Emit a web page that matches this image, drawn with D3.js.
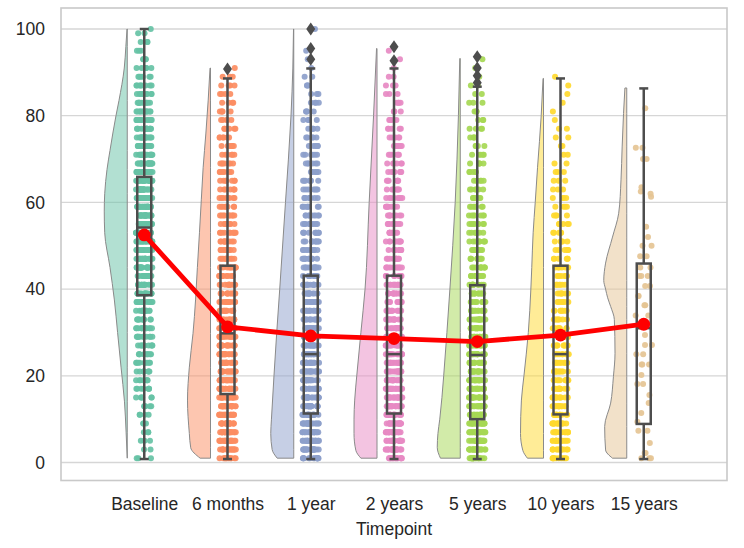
<!DOCTYPE html>
<html>
<head>
<meta charset="utf-8">
<script src="https://cdn.jsdelivr.net/npm/d3@7"></script>
<style>
  html, body { margin: 0; padding: 0; background: #ffffff; }
  svg { display: block; }
  text { font-family: "Liberation Sans", Arial, Helvetica, sans-serif; }
</style>
</head>
<body>
<svg id="chart" width="744" height="548"></svg>
<script>
// ---------------- DATA ----------------
const categories = ["Baseline", "6 months", "1 year", "2 years", "5 years", "10 years", "15 years"];
const colors = ["#66c2a5", "#fc8d62", "#8da0cb", "#e78ac3", "#a6d854", "#ffd92f", "#e5c494"];
const yTicks = [0, 20, 40, 60, 80, 100];
const xLabel = "Timepoint";

// means (red point line)
const means = [52.5, 31.3, 29.2, 28.6, 27.9, 29.4, 31.9];
// box plot statistics
const q1 = [38.6, 15.8, 11.3, 11.3, 10.0, 11.1, 8.9];
const medians = [54.2, 29.8, 25.0, 25.0, 24.8, 25.0, 31.0];
const q3 = [65.9, 45.4, 43.1, 43.1, 40.9, 45.4, 45.9];
const whiskerLow = [0.8, 0.8, 0.8, 0.8, 0.8, 0.8, 0.8];
const whiskerHigh = [100, 88.6, 90.9, 90.9, 86.7, 88.6, 86.3];
const outliers = [[], [90.8], [93.0, 95.5, 100], [92.7, 95.9], [87.6, 89.2, 91.0, 93.6], [], []];

// half-violin density profiles: [value, relative density]
const violinBaseline = [[1,0],[7,0.05],[14,0.12],[22,0.27],[30,0.42],[37.5,0.56],[45,0.75],[53,0.98],[58,1],[62,0.98],[67.6,0.88],[72,0.75],[80,0.49],[83.5,0.36],[91,0.13],[96,0.06],[100,0.01]];
const violin6m = [[1,0.45],[3.4,0.86],[6.7,0.92],[14.4,1],[22,0.92],[29.8,0.76],[37.5,0.65],[45,0.57],[53,0.48],[60.6,0.40],[68,0.32],[76,0.2],[83.6,0.1],[91,0.02]];
const violin1y = [[1,0.72],[3,0.94],[6.7,1],[10,0.97],[20,0.86],[30,0.74],[40,0.61],[60,0.36],[80,0.12],[91,0.04],[100,0.01]];
const violin2y = [[1,0.7],[2.8,0.92],[6.7,1],[10,1],[14.4,0.97],[20,0.88],[30,0.7],[40,0.52],[60,0.34],[80,0.15],[95.5,0.02]];
const violin5y = [[1,0.86],[3.5,1],[6.7,0.97],[10,0.89],[20,0.72],[30,0.58],[40,0.45],[60,0.22],[80,0.08],[93.2,0.02]];
const violin10y = [[1,0.7],[2.8,0.9],[6.7,1],[14.4,0.96],[20,0.85],[30,0.66],[40,0.55],[45,0.51],[53,0.45],[60,0.36],[68,0.26],[80,0.1],[88.6,0.02]];
const violin15y = [[1,0.62],[2.9,0.92],[8.3,0.96],[13.7,0.7],[19.8,0.58],[25.2,0.51],[33,0.54],[36,0.7],[38,0.83],[40,0.92],[42,1],[46,0.92],[52,0.62],[57.5,0.35],[65.2,0.25],[72.8,0.2],[80.5,0.14],[86.4,0.08]];

// strip points: counts of observations per score level
const stripLevels = [1,3,5,7,9,11,13,15,17,19,21,23,25,27,29,31,33,35,37,39,41,43,45,47,49,51,53,55,57,59,61,63,65,67,69,71,73,75,77,79,81,83,85,87,89,91,93,95,97,99,100];
const countsBaseline = [3,2,3,3,3,4,5,6,7,7, 8,9,10,10,11,12,12,13,14,15, 16,17,19,20,22,23,24,25,25,25, 25,24,23,22,21,19,18,16,15,13, 12,10,9,8,6,5,4,3,3,2, 1];
const counts6m = [12,18,19,20,21,21,21,21,20,19, 19,18,17,16,16,15,14,13,13,12, 12,12,11,11,10,10,10,9,9,8, 8,7,7,7,7,6,6,6,6,5, 5,4,4,4,3,1,0,0,0,0, 0];
const counts1y = [15,21,22,22,22,21,21,20,19,19, 19,18,17,16,16,16,15,14,14,13, 13,12,12,11,10,10,10,9,9,8, 8,7,7,7,6,6,6,5,5,4, 4,4,3,3,2,1,1,1,0,0, 1];
const counts2y = [15,21,22,22,22,22,21,20,20,19, 19,18,17,16,15,14,14,13,13,12, 12,11,10,10,10,10,9,9,9,8, 8,7,7,7,6,6,6,5,5,4, 4,4,3,3,2,1,1,1,0,0, 0];
const counts5y = [18,23,23,23,22,22,21,20,19,19, 18,17,16,15,15,14,14,13,12,12, 11,11,10,10,9,9,8,8,7,7, 6,6,6,5,5,5,4,4,4,3, 3,3,2,2,1,1,1,0,0,0, 0];
const counts10y = [10,13,14,14,14,14,13,13,12,12, 11,11,10,10,9,9,8,8,7,7, 7,7,6,6,6,5,5,5,4,4, 4,3,3,3,2,2,2,2,2,1, 1,1,1,1,1,0,0,0,0,0, 0];
// 15 years: individual observations
const values15y = [1,1,1,2.2,2.2,4.5,7.3,7.3,9.4,11.4,13.7,15.6,18.1,18.1,20.2,22.6,22.6,22.6,25,25,27.1,27.1,29.4,31.3,31.3,33.9,33.9,36.3,36.3,38.4,38.4,40.7,40.7,43,43,43,45,45,47.6,47.6,50,50,52,54.4,61.3,62,62.5,63.5,70,70,72.6,72.6,81.7];

// ---------------- BUILD ----------------
const violins = [violinBaseline, violin6m, violin1y, violin2y, violin5y, violin10y, violin15y];
const stripCounts = [countsBaseline, counts6m, counts1y, counts2y, counts5y, counts10y];

const svg = d3.select("#chart");
const plotL = 61, plotR = 727, plotT = 8, plotB = 480.5;

const x = d3.scalePoint().domain(categories).range([plotL, plotR]).padding(1);
const y = d3.scaleLinear().domain([-4.15, 104.85]).range([plotB, plotT]);

const textColor = "#262626";
const boxColor = "#4d4d4d";

// gridlines
svg.append("g").selectAll("line").data(yTicks).join("line")
  .attr("x1", plotL).attr("x2", plotR)
  .attr("y1", d => y(d)).attr("y2", d => y(d))
  .attr("stroke", "#d6d6d6").attr("stroke-width", 1.3);

// half violins
const violinOffset = 17, violinWidth = 23;
const gV = svg.append("g");
categories.forEach((c, i) => {
  const cx = x(c);
  const area = d3.area()
    .curve(d3.curveMonotoneY)
    .y(d => y(d[0]))
    .x0(cx - violinOffset)
    .x1(d => cx - violinOffset - d[1] * violinWidth);
  gV.append("path")
    .datum(violins[i])
    .attr("d", area)
    .attr("fill", colors[i])
    .attr("fill-opacity", 0.5)
    .attr("stroke", "#8a8a8a")
    .attr("stroke-width", 1);
});

// deterministic jitter for strip layout
function jit(a, b, c) {
  const s = Math.sin(a * 127.1 + b * 311.7 + c * 74.7 + 1.3) * 43758.5453;
  return (s - Math.floor(s)) * 2 - 1;
}
const jitterW = 8.3;
const gS = svg.append("g");
categories.forEach((c, i) => {
  const cx = x(c);
  let pts = [];
  if (i < stripCounts.length) {
    stripCounts[i].forEach((n, k) => {
      for (let j = 0; j < n; j++) pts.push({ v: stripLevels[k], dx: jit(i, k, j) * jitterW });
    });
  } else {
    values15y.forEach((v, k) => pts.push({ v: v, dx: jit(i, k, 0) * jitterW }));
  }
  gS.append("g").selectAll("circle").data(pts).join("circle")
    .attr("cx", d => cx + d.dx)
    .attr("cy", d => y(d.v))
    .attr("r", 3)
    .attr("fill", colors[i])
    .attr("fill-opacity", 0.92);
});

// box plots
const boxHalf = 7, capHalf = 4.5;
const gB = svg.append("g").attr("stroke", boxColor).attr("stroke-width", 2.5).attr("fill", "none");
categories.forEach((c, i) => {
  const cx = x(c);
  gB.append("line").attr("x1", cx).attr("x2", cx).attr("y1", y(q3[i])).attr("y2", y(whiskerHigh[i]));
  gB.append("line").attr("x1", cx).attr("x2", cx).attr("y1", y(q1[i])).attr("y2", y(whiskerLow[i]));
  gB.append("line").attr("x1", cx - capHalf).attr("x2", cx + capHalf).attr("y1", y(whiskerHigh[i])).attr("y2", y(whiskerHigh[i]));
  gB.append("line").attr("x1", cx - capHalf).attr("x2", cx + capHalf).attr("y1", y(whiskerLow[i])).attr("y2", y(whiskerLow[i]));
  gB.append("rect").attr("x", cx - boxHalf).attr("width", boxHalf * 2)
    .attr("y", y(q3[i])).attr("height", y(q1[i]) - y(q3[i]));
  gB.append("line").attr("x1", cx - boxHalf).attr("x2", cx + boxHalf).attr("y1", y(medians[i])).attr("y2", y(medians[i]));
  outliers[i].forEach(v => {
    svg.append("path")
      .attr("d", "M0,-6.5L4.5,0L0,6.5L-4.5,0Z")
      .attr("transform", `translate(${cx},${y(v)})`)
      .attr("fill", boxColor);
  });
});

// mean line + markers
const meanData = categories.map((c, i) => ({ c, v: means[i] }));
svg.append("path").datum(meanData)
  .attr("d", d3.line().x(d => x(d.c)).y(d => y(d.v)))
  .attr("fill", "none").attr("stroke", "#ff0000").attr("stroke-width", 4.8)
  .attr("stroke-linejoin", "round");
svg.append("g").selectAll("circle").data(meanData).join("circle")
  .attr("cx", d => x(d.c)).attr("cy", d => y(d.v)).attr("r", 6.4).attr("fill", "#ff0000");

// frame
svg.append("rect").attr("x", plotL).attr("y", plotT)
  .attr("width", plotR - plotL).attr("height", plotB - plotT)
  .attr("fill", "none").attr("stroke", "#c9c9c9").attr("stroke-width", 1.6);

// axes
const yAxis = svg.append("g").attr("transform", `translate(${plotL},0)`)
  .call(d3.axisLeft(y).tickValues(yTicks).tickSize(0).tickPadding(16));
yAxis.select(".domain").remove();
yAxis.selectAll("text").attr("font-size", "17.5px").attr("fill", textColor)
  .style("font-family", '"Liberation Sans", Arial, sans-serif');

const xAxis = svg.append("g").attr("transform", `translate(0,${plotB})`)
  .call(d3.axisBottom(x).tickSize(0).tickPadding(17));
xAxis.select(".domain").remove();
xAxis.selectAll("text").attr("font-size", "17.5px").attr("fill", textColor)
  .style("font-family", '"Liberation Sans", Arial, sans-serif');

svg.append("text").attr("x", (plotL + plotR) / 2).attr("y", 535)
  .attr("text-anchor", "middle").attr("font-size", "17.5px").attr("fill", textColor)
  .text(xLabel);
</script>
</body>
</html>
